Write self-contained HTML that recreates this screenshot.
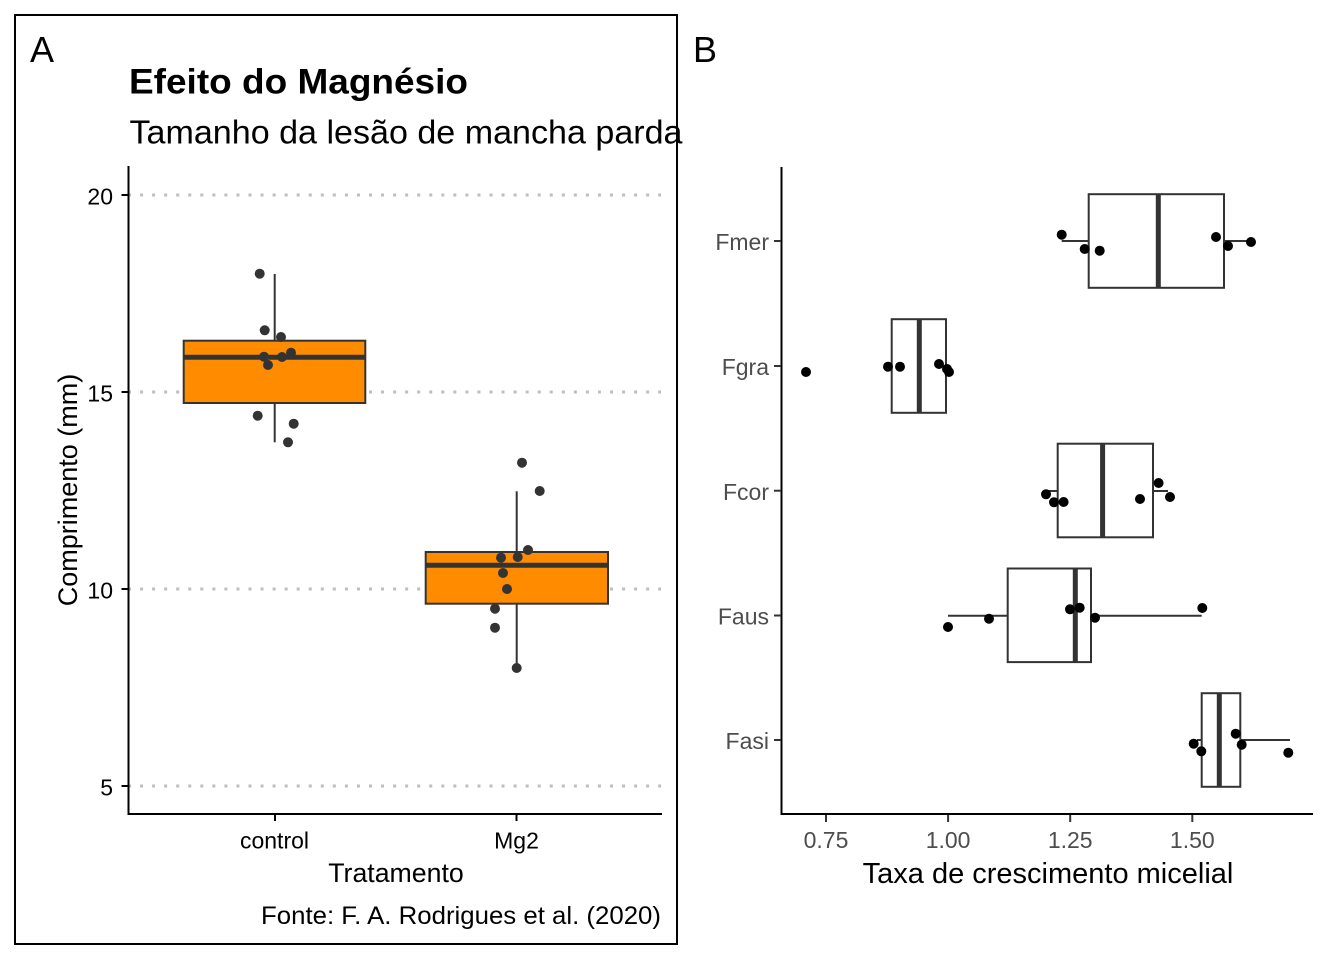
<!DOCTYPE html>
<html><head><meta charset="utf-8"><style>
html,body{margin:0;padding:0;background:#fff;}
svg{display:block;}
text{font-family:"Liberation Sans",Arial,sans-serif;}
</style></head><body>
<svg width="1344" height="960" viewBox="0 0 1344 960" xmlns="http://www.w3.org/2000/svg">
<rect x="0" y="0" width="1344" height="960" fill="#fff"/>

<!-- ============ PANEL A ============ -->
<rect x="15" y="15" width="662" height="929" fill="none" stroke="#000" stroke-width="2"/>
<text x="30" y="62" font-size="36" fill="#000">A</text>
<text x="129" y="93.5" font-size="35" font-weight="bold" fill="#000" textLength="339" lengthAdjust="spacingAndGlyphs">Efeito do Magnésio</text>
<text x="129.5" y="143.5" font-size="33" fill="#000" textLength="553" lengthAdjust="spacingAndGlyphs">Tamanho da lesão de mancha parda</text>

<!-- grid -->
<g stroke="#bebebe" stroke-width="3" stroke-dasharray="3 9.05" fill="none">
<line x1="128" y1="195" x2="661" y2="195"/>
<line x1="128" y1="392" x2="661" y2="392"/>
<line x1="128" y1="589" x2="661" y2="589"/>
<line x1="128" y1="786" x2="661" y2="786"/>
</g>

<!-- control box -->
<g stroke="#333" stroke-width="2">
<line x1="274.7" y1="274" x2="274.7" y2="341"/>
<line x1="274.7" y1="403" x2="274.7" y2="442.3"/>
<rect x="183.7" y="340.7" width="181.6" height="62.3" fill="#FF8C00"/>
<line x1="183.7" y1="357.3" x2="365.3" y2="357.3" stroke-width="5"/>
</g>
<!-- Mg2 box -->
<g stroke="#333" stroke-width="2">
<line x1="516.7" y1="491.3" x2="516.7" y2="552"/>
<line x1="516.7" y1="603.7" x2="516.7" y2="668"/>
<rect x="425.7" y="552" width="182.3" height="51.7" fill="#FF8C00"/>
<line x1="425.7" y1="565.3" x2="608" y2="565.3" stroke-width="5"/>
</g>
<g fill="#333">
<circle cx="259.7" cy="273.7" r="5"/>
<circle cx="264.7" cy="330.3" r="5"/>
<circle cx="281" cy="337" r="5"/>
<circle cx="291" cy="352.7" r="5"/>
<circle cx="264" cy="356.7" r="5"/>
<circle cx="282" cy="357" r="5"/>
<circle cx="268" cy="365" r="5"/>
<circle cx="257.7" cy="415.7" r="5"/>
<circle cx="293.7" cy="423.7" r="5"/>
<circle cx="288" cy="442.3" r="5"/>
<circle cx="522" cy="462.7" r="5"/>
<circle cx="539.7" cy="491" r="5"/>
<circle cx="528" cy="550" r="5"/>
<circle cx="501" cy="557.7" r="5"/>
<circle cx="517.7" cy="557" r="5"/>
<circle cx="503" cy="573" r="5"/>
<circle cx="507" cy="589" r="5"/>
<circle cx="495" cy="608.7" r="5"/>
<circle cx="495" cy="627.7" r="5"/>
<circle cx="516.7" cy="668" r="5"/>
</g>

<!-- axes A -->
<g stroke="#000" stroke-width="2">
<line x1="128.5" y1="166" x2="128.5" y2="815"/>
<line x1="127.5" y1="814" x2="662" y2="814"/>
<line x1="121.5" y1="195" x2="128.5" y2="195"/>
<line x1="121.5" y1="392" x2="128.5" y2="392"/>
<line x1="121.5" y1="589" x2="128.5" y2="589"/>
<line x1="121.5" y1="786" x2="128.5" y2="786"/>
<line x1="275" y1="814" x2="275" y2="821"/>
<line x1="516.5" y1="814" x2="516.5" y2="821"/>
</g>
<g font-size="23" fill="#000" text-anchor="end">
<text x="113" y="204.5">20</text>
<text x="113" y="401.5">15</text>
<text x="113" y="598.5">10</text>
<text x="113" y="795.5">5</text>
</g>
<g font-size="23" fill="#000" text-anchor="middle">
<text x="274.5" y="848.5">control</text>
<text x="516.5" y="848.5">Mg2</text>
</g>
<text x="396" y="882" font-size="26.7" text-anchor="middle" fill="#000">Tratamento</text>
<text transform="translate(77,490) rotate(-90)" font-size="27" text-anchor="middle" fill="#000">Comprimento (mm)</text>
<text x="661" y="924" font-size="25" text-anchor="end" fill="#000" textLength="400" lengthAdjust="spacingAndGlyphs">Fonte: F. A. Rodrigues et al. (2020)</text>

<!-- ============ PANEL B ============ -->
<text x="693" y="62" font-size="36" fill="#000">B</text>

<g stroke="#333" stroke-width="2" fill="#fff">
<!-- Fmer -->
<line x1="1061.7" y1="241" x2="1088.7" y2="241"/>
<line x1="1224" y1="241" x2="1250.5" y2="241"/>
<rect x="1088.7" y="194.2" width="135.3" height="93.6"/>
<line x1="1158.3" y1="194.2" x2="1158.3" y2="287.8" stroke-width="5"/>
<!-- Fgra -->
<rect x="891.7" y="319.2" width="54.3" height="93.6"/>
<line x1="919.3" y1="319.2" x2="919.3" y2="412.8" stroke-width="5"/>
<!-- Fcor -->
<line x1="1046" y1="491" x2="1057.7" y2="491"/>
<line x1="1153" y1="491" x2="1168" y2="491"/>
<rect x="1057.7" y="443.7" width="95.3" height="93.6"/>
<line x1="1102.6" y1="443.7" x2="1102.6" y2="537.3" stroke-width="5"/>
<!-- Faus -->
<line x1="948" y1="615.7" x2="1007.7" y2="615.7"/>
<line x1="1091" y1="615.7" x2="1201.7" y2="615.7"/>
<rect x="1007.7" y="568.5" width="83.3" height="93.6"/>
<line x1="1075.3" y1="568.5" x2="1075.3" y2="662.1" stroke-width="5"/>
<!-- Fasi -->
<line x1="1197" y1="740" x2="1201.7" y2="740"/>
<line x1="1240.3" y1="740" x2="1290" y2="740"/>
<rect x="1201.7" y="693.2" width="38.6" height="93.6"/>
<line x1="1219.3" y1="693.2" x2="1219.3" y2="786.8" stroke-width="5"/>
</g>

<g fill="#000">
<circle cx="1061.7" cy="234.7" r="5"/>
<circle cx="1084.7" cy="249" r="5"/>
<circle cx="1099.7" cy="250.7" r="5"/>
<circle cx="1216" cy="237" r="5"/>
<circle cx="1228" cy="246" r="5"/>
<circle cx="1251" cy="242" r="5"/>
<circle cx="806" cy="372" r="5"/>
<circle cx="888" cy="366.7" r="5"/>
<circle cx="900" cy="366.7" r="5"/>
<circle cx="939" cy="364" r="5"/>
<circle cx="947" cy="369" r="5"/>
<circle cx="949" cy="372" r="5"/>
<circle cx="1046" cy="494.3" r="5"/>
<circle cx="1054" cy="502.3" r="5"/>
<circle cx="1063.6" cy="502" r="5"/>
<circle cx="1140" cy="499" r="5"/>
<circle cx="1158.6" cy="483" r="5"/>
<circle cx="1170" cy="497" r="5"/>
<circle cx="948" cy="627" r="5"/>
<circle cx="989" cy="618.7" r="5"/>
<circle cx="1070" cy="609.3" r="5"/>
<circle cx="1079.7" cy="607.7" r="5"/>
<circle cx="1095" cy="617.7" r="5"/>
<circle cx="1202.3" cy="608" r="5"/>
<circle cx="1193.7" cy="743.7" r="5"/>
<circle cx="1201.3" cy="751.3" r="5"/>
<circle cx="1235.7" cy="733.7" r="5"/>
<circle cx="1241.7" cy="744.7" r="5"/>
<circle cx="1288.3" cy="752.7" r="5"/>
</g>

<!-- axes B -->
<g stroke="#000" stroke-width="2">
<line x1="781.5" y1="167" x2="781.5" y2="815"/>
<line x1="780.5" y1="814" x2="1313" y2="814"/>
</g>
<g stroke="#333" stroke-width="2">
<line x1="774" y1="241" x2="781" y2="241"/>
<line x1="774" y1="366" x2="781" y2="366"/>
<line x1="774" y1="490.7" x2="781" y2="490.7"/>
<line x1="774" y1="615.5" x2="781" y2="615.5"/>
<line x1="774" y1="740" x2="781" y2="740"/>
<line x1="826" y1="815" x2="826" y2="822"/>
<line x1="948.1" y1="815" x2="948.1" y2="822"/>
<line x1="1070.2" y1="815" x2="1070.2" y2="822"/>
<line x1="1192.3" y1="815" x2="1192.3" y2="822"/>
</g>
<g font-size="23" fill="#4d4d4d" text-anchor="end">
<text x="769" y="250">Fmer</text>
<text x="769" y="375">Fgra</text>
<text x="769" y="500">Fcor</text>
<text x="769" y="624.5">Faus</text>
<text x="769" y="749">Fasi</text>
</g>
<g font-size="23" fill="#4d4d4d" text-anchor="middle">
<text x="826" y="848">0.75</text>
<text x="948.1" y="848">1.00</text>
<text x="1070.2" y="848">1.25</text>
<text x="1192.3" y="848">1.50</text>
</g>
<text x="1048" y="883" font-size="29" text-anchor="middle" fill="#000">Taxa de crescimento micelial</text>
</svg>
</body></html>
